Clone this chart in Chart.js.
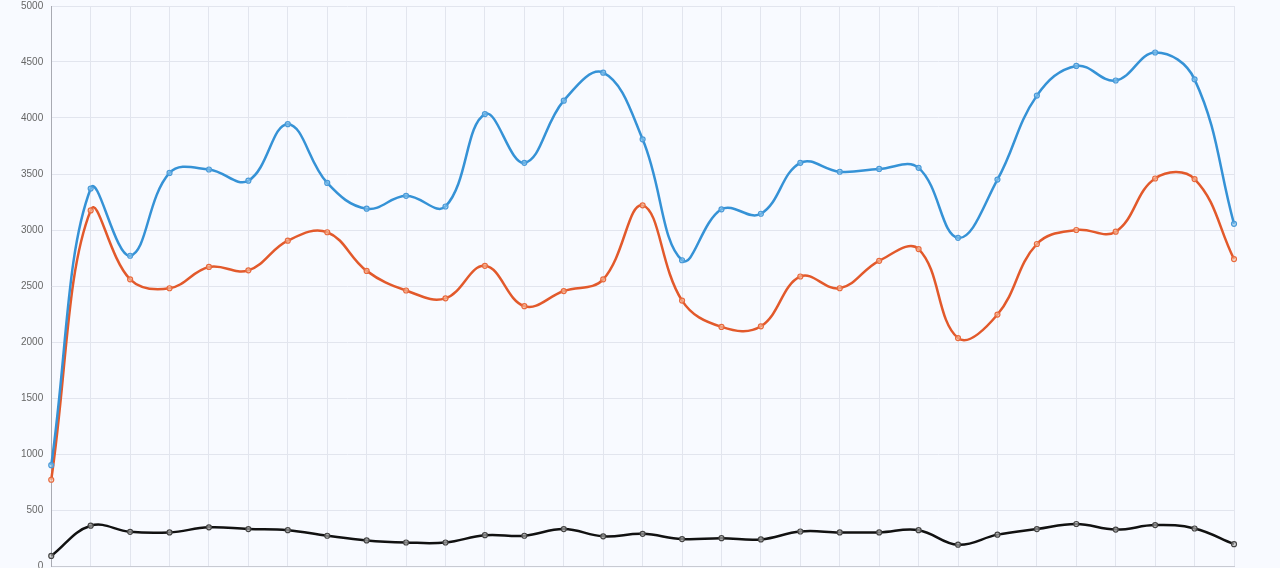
<!DOCTYPE html>
<html>
<head>
<meta charset="utf-8">
<script src="https://cdn.jsdelivr.net/npm/chart.js@4/dist/chart.umd.min.js"></script>
<style>
  html, body { margin: 0; padding: 0; width: 1280px; height: 568px; overflow: hidden; background: #f8faff; }
  #wrap { position: absolute; left: 0; top: -26px; width: 1280px; height: 606px; }
</style>
</head>
<body>
<div id="wrap"><canvas id="c"></canvas></div>
<script>
const categories = ["1","2","3","4","5","6","7","8","9","10","11","12","13","14","15","16","17","18","19","20","21","22","23","24","25","26","27","28","29","30","31"];
const seriesNames = ["Visitors", "Sessions", "Orders"];
const visitors = [900, 3370, 2770, 3510, 3540, 3440, 3945, 3420, 3190, 3305, 3210, 4035, 3600, 4155, 4405, 3810, 2730, 3185, 3145, 3600, 3520, 3545, 3555, 2930, 3450, 4200, 4465, 4335, 4585, 4345, 3055];
const sessions = [770, 3175, 2560, 2480, 2670, 2640, 2905, 2980, 2635, 2460, 2390, 2680, 2320, 2455, 2560, 3220, 2370, 2135, 2140, 2585, 2480, 2725, 2830, 2035, 2245, 2875, 3000, 2985, 3460, 3455, 2740];
const orders = [90, 360, 305, 300, 345, 330, 320, 270, 228, 210, 210, 275, 270, 330, 265, 287, 240, 248, 237, 308, 300, 300, 320, 190, 280, 330, 375, 325, 365, 335, 195];
const yTicks = [0, 500, 1000, 1500, 2000, 2500, 3000, 3500, 4000, 4500, 5000];

Chart.defaults.font.family = "'Liberation Sans', Arial, Helvetica, sans-serif";
Chart.defaults.color = "#666";

new Chart(document.getElementById('c'), {
  type: 'line',
  data: {
    labels: categories,
    datasets: [
      { label: seriesNames[0], data: visitors, borderColor: '#3592d6', backgroundColor: 'rgba(160,240,250,0.6)',
        borderWidth: 2.5, pointRadius: 2.5, pointBorderWidth: 1.2, pointBorderColor: '#4a9ad8', pointBackgroundColor: 'rgba(140,200,240,0.6)', tension: 0.4, fill: false },
      { label: seriesNames[1], data: sessions, borderColor: '#e2592b', backgroundColor: 'rgba(255,190,150,0.6)',
        borderWidth: 2.5, pointRadius: 2.5, pointBorderWidth: 1.2, pointBorderColor: '#e86a3e', pointBackgroundColor: 'rgba(250,200,170,0.6)', tension: 0.4, fill: false },
      { label: seriesNames[2], data: orders, borderColor: '#111111', backgroundColor: 'rgba(0,0,0,0)',
        borderWidth: 2.5, pointRadius: 2.5, pointBorderWidth: 1.2, pointBorderColor: '#444', pointBackgroundColor: 'rgba(200,200,200,0.6)', tension: 0.4, fill: false }
    ]
  },
  options: {
    responsive: true,
    maintainAspectRatio: false,
    animation: false,
    layout: { padding: { left: 13, right: 46, top: 0, bottom: 0 } },
    plugins: {
      legend: { display: true, labels: { filter: (item) => item.datasetIndex < 2 } },
      tooltip: { enabled: false }
    },
    scales: {
      x: {
        ticks: { display: false },
        grid: { color: '#e2e5ee', drawTicks: false },
        border: { color: '#c8cad2' }
      },
      y: {
        min: yTicks[0], max: yTicks[yTicks.length - 1],
        afterBuildTicks: (axis) => { axis.ticks = yTicks.map(v => ({ value: v })); },
        ticks: { font: { size: 10 }, padding: 8, color: '#666', callback: (v) => String(v) },
        grid: { color: '#e2e5ee', drawTicks: false },
        border: { color: '#a8aab2' }
      }
    }
  }
});
</script>
</body>
</html>
